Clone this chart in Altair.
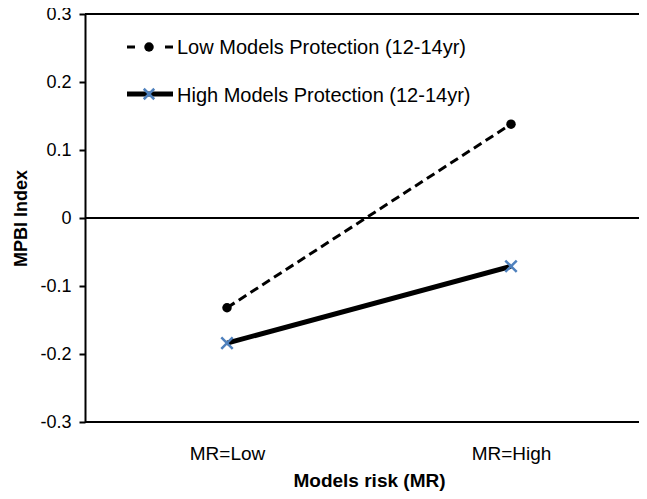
import altair as alt
import pandas as pd

# ---- data ----
mr_levels = ["MR=Low", "MR=High"]
series_names = ["Low Models Protection (12-14yr)", "High Models Protection (12-14yr)"]
low_protection = [-0.132, 0.138]
high_protection = [-0.184, -0.071]
y_ticks = [-0.3, -0.2, -0.1, 0.0, 0.1, 0.2, 0.3]

rows = []
for mr, v in zip(mr_levels, low_protection):
    rows.append({"mr": mr, "value": v, "series": series_names[0]})
for mr, v in zip(mr_levels, high_protection):
    rows.append({"mr": mr, "value": v, "series": series_names[1]})
df = pd.DataFrame(rows)

FONT = "Liberation Sans"
BLUE = "#4F81BD"
X_PATH = "M-1,-1L1,1M-1,1L1,-1"

x_enc = alt.X("mr:N", sort=mr_levels,
              scale=alt.Scale(type="point", range=[142, 426], padding=0),
              axis=alt.Axis(title="Models risk (MR)", labelAngle=0, ticks=False, tickSize=0,
                            domain=False, labelPadding=22, labelFontSize=19, titleFontSize=19,
                            titlePadding=8))
y_scale = alt.Scale(domain=[-0.3, 0.3], nice=False, zero=False)
y_enc = alt.Y("value:Q", scale=y_scale,
              axis=alt.Axis(title="MPBI Index", values=y_ticks, grid=False,
                            labelExpr="datum.value == 0 ? '0' : (datum.value < 0 ? '-' : '') + format(abs(datum.value), '.1f')",
                            tickSize=6, tickWidth=2, tickColor="black", labelPadding=8,
                            labelFontSize=18, titleFontSize=18, titlePadding=9,
                            domainWidth=2, domainColor="black"))

base = alt.Chart(df)

low = base.transform_filter(alt.datum.series == series_names[0])
high = base.transform_filter(alt.datum.series == series_names[1])

low_line = low.mark_line(color="black", strokeWidth=3, strokeDash=[9, 5]).encode(x=x_enc, y=y_enc)
high_line = high.mark_line(color="black", strokeWidth=5).encode(x=x_enc, y=y_enc)
low_pts = low.mark_point(shape="circle", filled=True, color="black", size=90, opacity=1).encode(x=x_enc, y=y_enc)
high_pts = high.mark_point(shape=X_PATH, filled=False, color=BLUE, size=130, strokeWidth=2.5, opacity=1).encode(x=x_enc, y=y_enc)

top_border = base.mark_rule(color="black", strokeWidth=2).encode(y=alt.datum(0.3))
bottom_border = base.mark_rule(color="black", strokeWidth=2).encode(y=alt.datum(-0.3))
zero_line = base.mark_rule(color="black", strokeWidth=2).encode(y=alt.datum(0))

# ---- legend drawn inside the plot ----
leg = alt.Chart(pd.DataFrame({"label": series_names}))
leg1 = leg.transform_filter(alt.datum.label == series_names[0])
leg2 = leg.transform_filter(alt.datum.label == series_names[1])

leg1_line = leg1.mark_rule(color="black", strokeWidth=3, strokeDash=[8, 30]).encode(
    x=alt.value(42), x2=alt.value(88), y=alt.value(33))
leg1_pt = leg1.mark_point(shape="circle", filled=True, color="black", size=90, opacity=1).encode(
    x=alt.value(64), y=alt.value(33))
leg1_txt = leg1.mark_text(align="left", baseline="middle", font=FONT, fontSize=20, color="black").encode(
    x=alt.value(92), y=alt.value(34), text="label:N")

leg2_line = leg2.mark_rule(color="black", strokeWidth=5).encode(
    x=alt.value(42), x2=alt.value(88), y=alt.value(80))
leg2_pt = leg2.mark_point(shape=X_PATH, filled=False, color=BLUE, size=110, strokeWidth=2.5, opacity=1).encode(
    x=alt.value(64), y=alt.value(80))
leg2_txt = leg2.mark_text(align="left", baseline="middle", font=FONT, fontSize=20, color="black").encode(
    x=alt.value(92), y=alt.value(82), text="label:N")

chart = alt.layer(
    top_border, bottom_border, zero_line, low_line, high_line, low_pts, high_pts,
    leg1_line, leg1_pt, leg1_txt, leg2_line, leg2_pt, leg2_txt,
).properties(
    width=554, height=408,
    padding={"left": 77, "top": 6, "right": 0, "bottom": 69},
    autosize=alt.AutoSizeParams(type="none"),
).configure_view(stroke=None).configure_axis(
    labelFont=FONT, titleFont=FONT, labelColor="black", titleColor="black",
    titleFontWeight="bold",
).configure(background="white")

chart.save("out.html", embed_options={"renderer": "svg", "actions": False})
